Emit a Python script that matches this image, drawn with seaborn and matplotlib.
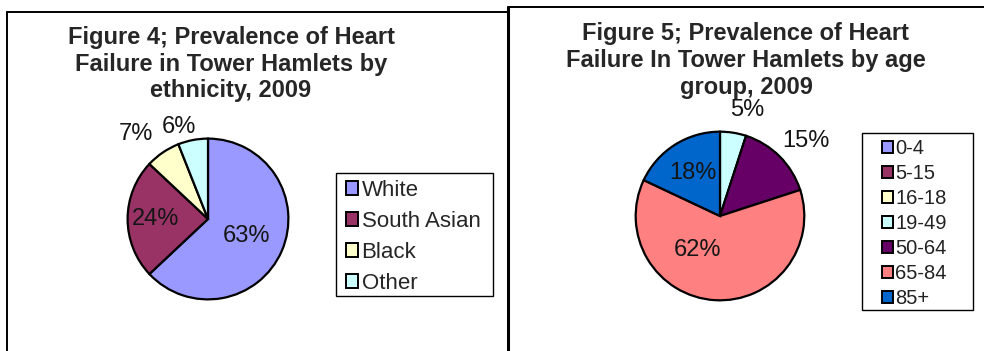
import numpy as np
import matplotlib
matplotlib.use("Agg")
import matplotlib.pyplot as plt
import seaborn as sns
from matplotlib.patches import Patch, Rectangle
from matplotlib.lines import Line2D

# Heart failure prevalence shares (%), Tower Hamlets 2009
ethnic_groups = ["White", "South Asian", "Black", "Other"]
ethnic_share = [63, 24, 7, 6]

age_groups = ["0-4", "5-15", "16-18", "19-49", "50-64", "65-84", "85+"]
age_share = [0, 0, 0, 5, 15, 62, 18]

title_ethnic = "Figure 4; Prevalence of Heart\nFailure in Tower Hamlets by\nethnicity, 2009"
title_age = "Figure 5; Prevalence of Heart\nFailure In Tower Hamlets by age\ngroup, 2009"

# classic spreadsheet chart palette
palette = ["#9999FF", "#993366", "#FFFFCC", "#CCFFFF", "#660066", "#FF8080", "#0066CC"]

sns.set_theme(style="white")
plt.rcParams["font.family"] = ["Liberation Sans", "DejaVu Sans"]

W, H = 984, 351
fig = plt.figure(figsize=(W / 100, H / 100), dpi=100)
fig.patch.set_facecolor("white")


def fx(x):
    return x / W


def fy(y):
    return 1 - y / H


def px_axes(cx, cy, r):
    return fig.add_axes([(cx - r) / W, (H - cy - r) / H, 2 * r / W, 2 * r / H])


def draw_pie(ax, values, colors, label_pos):
    ax.pie(values, colors=colors, startangle=90, counterclock=False, radius=1,
           wedgeprops=dict(edgecolor="black", linewidth=1.6))
    ax.set_aspect("auto")
    ax.set_xlim(-1.02, 1.02)
    ax.set_ylim(-1.02, 1.02)
    ax.axis("off")
    total = sum(values)
    start = 90.0
    for v, (dist, nudge) in zip(values, label_pos):
        span = 360.0 * v / total
        mid = start - span / 2
        start -= span
        if v == 0:
            continue
        ang = np.deg2rad(mid + nudge)
        ax.text(dist * np.cos(ang), dist * np.sin(ang), f"{v}%", ha="center",
                va="center", fontsize=17, color="#151515", clip_on=False)


def fig_line(x0, y0, x1, y1, lw):
    fig.add_artist(Line2D([fx(x0), fx(x1)], [fy(y0), fy(y1)], color="black",
                          lw=lw, transform=fig.transFigure))


def legend_box(x0, y0, x1, y1):
    fig.add_artist(Rectangle((fx(x0), fy(y1)), fx(x1) - fx(x0), fy(y0) - fy(y1),
                             facecolor="white", edgecolor="black", lw=1.0,
                             transform=fig.transFigure))


# panel borders
fig_line(7, 12, 507, 12, 1.4)
fig_line(7, 12, 7, 351, 1.4)
fig_line(508, 7, 984, 7, 1.4)
fig_line(508, 7, 508, 351, 2.2)

# ethnicity pie
ax1 = px_axes(208, 219, 82)
draw_pie(ax1, ethnic_share, palette[:4],
         [(0.52, 0), (0.65, 0), (1.38, 6), (1.2, 7)])
fig.text(fx(231), fy(26), title_ethnic, ha="center", va="top", fontsize=17,
         fontweight="bold", linespacing=1.2)

legend_box(336, 173, 493, 296)
h1 = [Patch(facecolor=c, edgecolor="black", lw=1.4) for c in palette[:4]]
fig.legend(h1, ethnic_groups, loc="upper left", bbox_to_anchor=(fx(346), fy(180)),
           frameon=False, borderpad=0, borderaxespad=0, fontsize=16,
           handlelength=0.55, handleheight=0.55, handletextpad=0.15,
           labelspacing=0.45)

# age group pie
ax2 = px_axes(720, 216, 86)
draw_pie(ax2, age_share, palette,
         [(0, 0), (0, 0), (0, 0), (1.3, -5.5), (1.35, -4), (0.49, -30), (0.6, 0)])
fig.text(fx(746), fy(22), title_age, ha="center", va="top", fontsize=17,
         fontweight="bold", linespacing=1.22)

legend_box(862, 133, 973, 310)
h2 = [Patch(facecolor=c, edgecolor="black", lw=1.4) for c in palette]
fig.legend(h2, age_groups, loc="upper left", bbox_to_anchor=(fx(882), fy(139)),
           frameon=False, borderpad=0, borderaxespad=0, fontsize=14.5,
           handlelength=0.55, handleheight=0.55, handletextpad=0.12,
           labelspacing=0.3, labelcolor="#222222")

fig.savefig("out.png", dpi=100, facecolor="white")
